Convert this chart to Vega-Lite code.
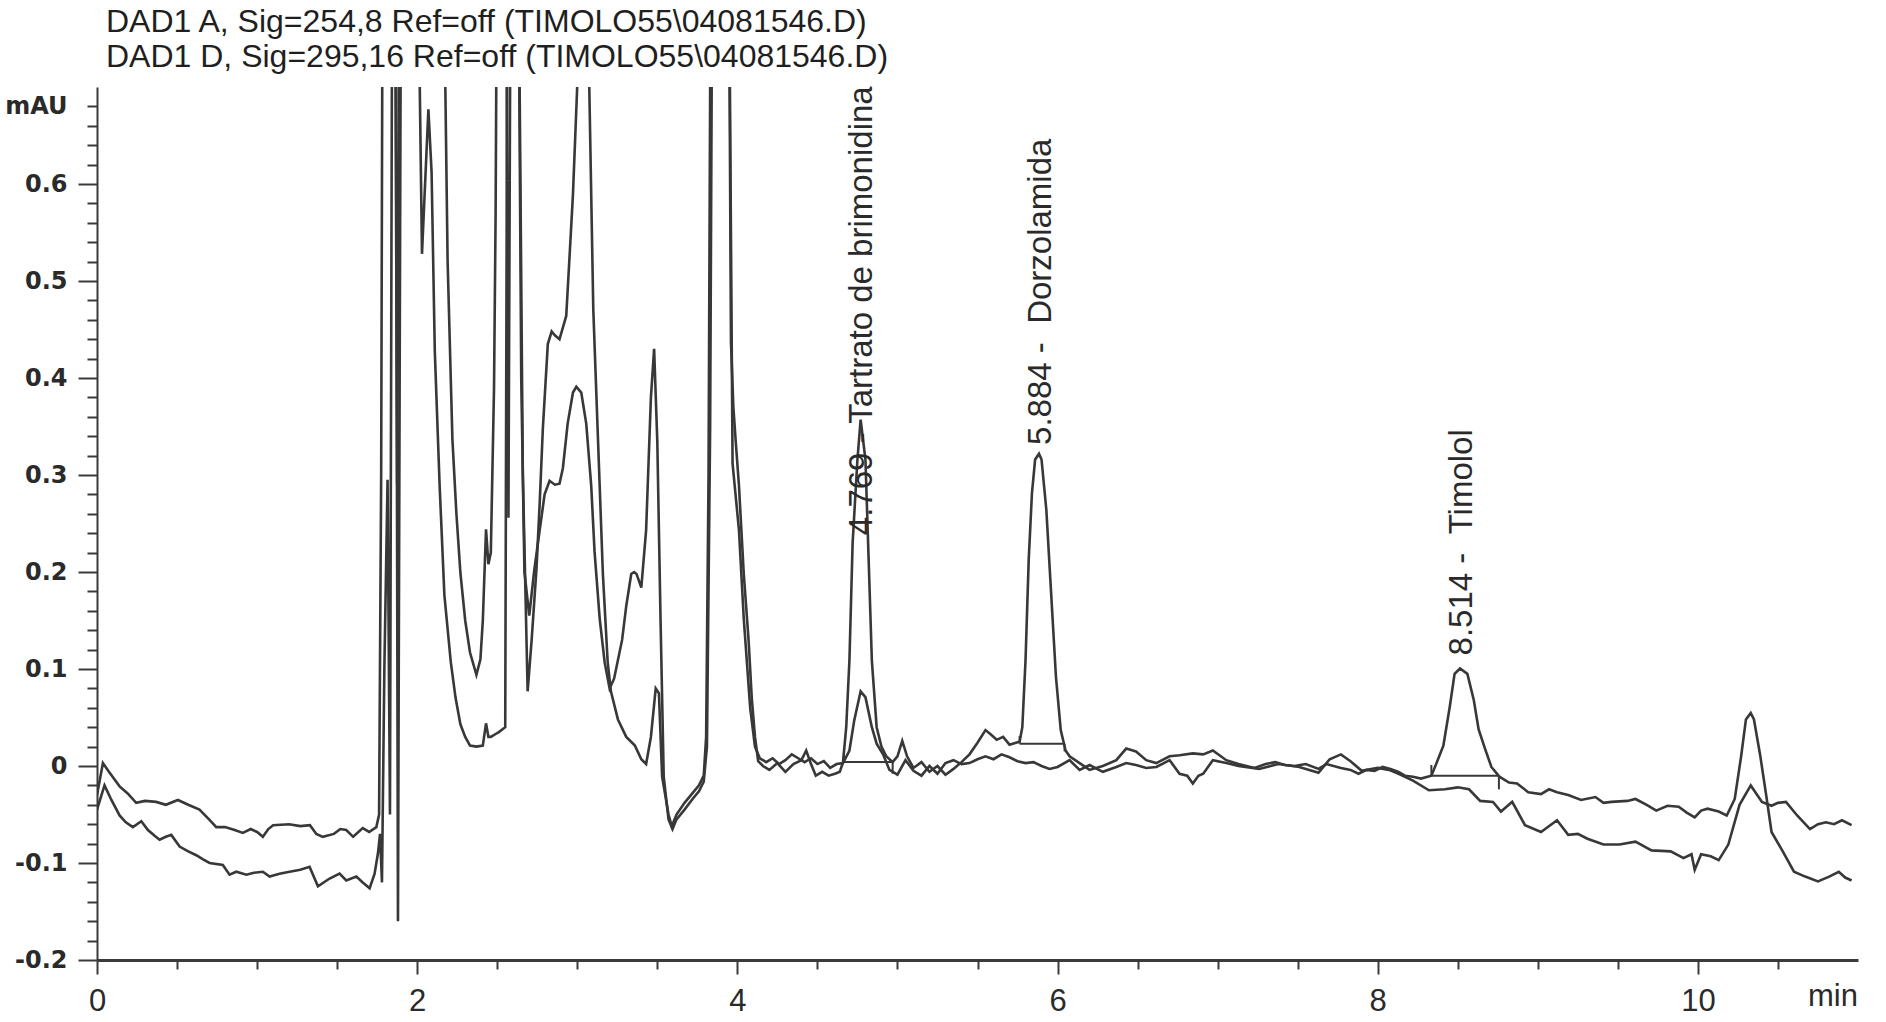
{
"$schema":"https://vega.github.io/schema/vega-lite/v6.json",
"width":1761,"height":873,
"autosize":{"type":"none"},
"padding":{"left":97,"top":87,"right":28,"bottom":62},
"background":"white",
"config":{"view":{"stroke":null}},
"title":{"text":["DAD1 A, Sig=254,8 Ref=off (TIMOLO55\\04081546.D)","DAD1 D, Sig=295,16 Ref=off (TIMOLO55\\04081546.D)"],"anchor":"start","frame":"group","font":"Liberation Sans","fontSize":32,"fontWeight":"normal","color":"#1f1f1f","lineHeight":35,"dx":9,"offset":12},
"datasets":{
"traces":[
{"s":"A","t":0,"v":-0.03},{"s":"A","t":0.037,"v":0.003},{"s":"A","t":0.07,"v":-0.005},{"s":"A","t":0.141,"v":-0.021},{"s":"A","t":0.19,"v":-0.028},{"s":"A","t":0.245,"v":-0.038},{"s":"A","t":0.3,"v":-0.036},{"s":"A","t":0.37,"v":-0.037},{"s":"A","t":0.43,"v":-0.04},{"s":"A","t":0.505,"v":-0.035},{"s":"A","t":0.57,"v":-0.04},{"s":"A","t":0.64,"v":-0.045},{"s":"A","t":0.7,"v":-0.055},{"s":"A","t":0.745,"v":-0.063},{"s":"A","t":0.8,"v":-0.063},{"s":"A","t":0.86,"v":-0.066},{"s":"A","t":0.911,"v":-0.069},{"s":"A","t":0.96,"v":-0.065},{"s":"A","t":1.0,"v":-0.068},{"s":"A","t":1.036,"v":-0.073},{"s":"A","t":1.07,"v":-0.065},{"s":"A","t":1.1,"v":-0.061},{"s":"A","t":1.2,"v":-0.06},{"s":"A","t":1.27,"v":-0.062},{"s":"A","t":1.33,"v":-0.061},{"s":"A","t":1.37,"v":-0.07},{"s":"A","t":1.41,"v":-0.073},{"s":"A","t":1.48,"v":-0.07},{"s":"A","t":1.52,"v":-0.065},{"s":"A","t":1.557,"v":-0.066},{"s":"A","t":1.6,"v":-0.073},{"s":"A","t":1.66,"v":-0.064},{"s":"A","t":1.7,"v":-0.068},{"s":"A","t":1.745,"v":-0.063},{"s":"A","t":1.762,"v":-0.05},{"s":"A","t":1.775,"v":0.3},{"s":"A","t":1.785,"v":0.9},{"s":"A","t":1.86,"v":0.9},{"s":"A","t":1.875,"v":0.29},{"s":"A","t":1.89,"v":0.9},{"s":"A","t":2.16,"v":0.9},{"s":"A","t":2.19,"v":0.521},{"s":"A","t":2.22,"v":0.337},{"s":"A","t":2.245,"v":0.26},{"s":"A","t":2.27,"v":0.199},{"s":"A","t":2.3,"v":0.15},{"s":"A","t":2.33,"v":0.117},{"s":"A","t":2.37,"v":0.094},{"s":"A","t":2.395,"v":0.11},{"s":"A","t":2.41,"v":0.15},{"s":"A","t":2.43,"v":0.244},{"s":"A","t":2.445,"v":0.208},{"s":"A","t":2.46,"v":0.22},{"s":"A","t":2.48,"v":0.39},{"s":"A","t":2.49,"v":0.57},{"s":"A","t":2.5,"v":0.9},{"s":"A","t":2.555,"v":0.9},{"s":"A","t":2.57,"v":0.256},{"s":"A","t":2.585,"v":0.9},{"s":"A","t":2.63,"v":0.9},{"s":"A","t":2.66,"v":0.3},{"s":"A","t":2.69,"v":0.077},{"s":"A","t":2.715,"v":0.13},{"s":"A","t":2.745,"v":0.203},{"s":"A","t":2.765,"v":0.27},{"s":"A","t":2.785,"v":0.348},{"s":"A","t":2.816,"v":0.435},{"s":"A","t":2.84,"v":0.448},{"s":"A","t":2.86,"v":0.444},{"s":"A","t":2.889,"v":0.44},{"s":"A","t":2.91,"v":0.452},{"s":"A","t":2.931,"v":0.464},{"s":"A","t":2.95,"v":0.52},{"s":"A","t":2.973,"v":0.589},{"s":"A","t":2.99,"v":0.66},{"s":"A","t":3.035,"v":0.85},{"s":"A","t":3.075,"v":0.7},{"s":"A","t":3.1,"v":0.471},{"s":"A","t":3.13,"v":0.334},{"s":"A","t":3.16,"v":0.198},{"s":"A","t":3.19,"v":0.107},{"s":"A","t":3.21,"v":0.077},{"s":"A","t":3.254,"v":0.048},{"s":"A","t":3.306,"v":0.03},{"s":"A","t":3.36,"v":0.021},{"s":"A","t":3.4,"v":0.007},{"s":"A","t":3.43,"v":0.002},{"s":"A","t":3.46,"v":0.03},{"s":"A","t":3.49,"v":0.08},{"s":"A","t":3.51,"v":0.075},{"s":"A","t":3.53,"v":-0.011},{"s":"A","t":3.57,"v":-0.05},{"s":"A","t":3.59,"v":-0.062},{"s":"A","t":3.62,"v":-0.05},{"s":"A","t":3.67,"v":-0.038},{"s":"A","t":3.72,"v":-0.028},{"s":"A","t":3.76,"v":-0.02},{"s":"A","t":3.79,"v":-0.01},{"s":"A","t":3.805,"v":0.03},{"s":"A","t":3.82,"v":0.3},{"s":"A","t":3.835,"v":0.9},{"s":"A","t":3.89,"v":1.2},{"s":"A","t":3.945,"v":0.9},{"s":"A","t":3.96,"v":0.437},{"s":"A","t":3.975,"v":0.37},{"s":"A","t":3.99,"v":0.334},{"s":"A","t":4.01,"v":0.289},{"s":"A","t":4.04,"v":0.198},{"s":"A","t":4.07,"v":0.13},{"s":"A","t":4.09,"v":0.07},{"s":"A","t":4.11,"v":0.03},{"s":"A","t":4.13,"v":0.005},{"s":"A","t":4.16,"v":0.0},{"s":"A","t":4.2,"v":-0.004},{"s":"A","t":4.25,"v":0.003},{"s":"A","t":4.3,"v":-0.006},{"s":"A","t":4.35,"v":0.002},{"s":"A","t":4.4,"v":0.006},{"s":"A","t":4.43,"v":0.016},{"s":"A","t":4.46,"v":0.002},{"s":"A","t":4.49,"v":-0.01},{"s":"A","t":4.53,"v":-0.006},{"s":"A","t":4.57,"v":-0.01},{"s":"A","t":4.61,"v":-0.008},{"s":"A","t":4.64,"v":-0.006},{"s":"A","t":4.66,"v":0.004},{"s":"A","t":4.68,"v":0.04},{"s":"A","t":4.7,"v":0.109},{"s":"A","t":4.72,"v":0.23},{"s":"A","t":4.75,"v":0.316},{"s":"A","t":4.77,"v":0.357},{"s":"A","t":4.8,"v":0.316},{"s":"A","t":4.82,"v":0.213},{"s":"A","t":4.84,"v":0.109},{"s":"A","t":4.87,"v":0.04},{"s":"A","t":4.9,"v":0.02},{"s":"A","t":4.93,"v":0.01},{"s":"A","t":4.97,"v":0.004},{"s":"A","t":5.0,"v":0.01},{"s":"A","t":5.03,"v":0.026},{"s":"A","t":5.06,"v":0.01},{"s":"A","t":5.1,"v":-0.002},{"s":"A","t":5.15,"v":0.004},{"s":"A","t":5.2,"v":-0.006},{"s":"A","t":5.25,"v":0.0},{"s":"A","t":5.3,"v":-0.009},{"s":"A","t":5.35,"v":-0.003},{"s":"A","t":5.4,"v":0.004},{"s":"A","t":5.45,"v":0.012},{"s":"A","t":5.5,"v":0.024},{"s":"A","t":5.55,"v":0.037},{"s":"A","t":5.58,"v":0.033},{"s":"A","t":5.62,"v":0.027},{"s":"A","t":5.66,"v":0.03},{"s":"A","t":5.7,"v":0.022},{"s":"A","t":5.74,"v":0.024},{"s":"A","t":5.763,"v":0.025},{"s":"A","t":5.78,"v":0.04},{"s":"A","t":5.8,"v":0.109},{"s":"A","t":5.82,"v":0.213},{"s":"A","t":5.84,"v":0.281},{"s":"A","t":5.86,"v":0.316},{"s":"A","t":5.884,"v":0.322},{"s":"A","t":5.9,"v":0.316},{"s":"A","t":5.93,"v":0.264},{"s":"A","t":5.96,"v":0.178},{"s":"A","t":5.99,"v":0.092},{"s":"A","t":6.02,"v":0.037},{"s":"A","t":6.05,"v":0.016},{"s":"A","t":6.075,"v":0.01},{"s":"A","t":6.138,"v":0.003},{"s":"A","t":6.2,"v":-0.004},{"s":"A","t":6.283,"v":0.0},{"s":"A","t":6.367,"v":0.006},{"s":"A","t":6.429,"v":0.018},{"s":"A","t":6.49,"v":0.015},{"s":"A","t":6.554,"v":0.006},{"s":"A","t":6.617,"v":0.003},{"s":"A","t":6.7,"v":0.01},{"s":"A","t":6.762,"v":0.011},{"s":"A","t":6.845,"v":0.013},{"s":"A","t":6.91,"v":0.012},{"s":"A","t":6.97,"v":0.016},{"s":"A","t":7.054,"v":0.006},{"s":"A","t":7.13,"v":0.002},{"s":"A","t":7.23,"v":-0.002},{"s":"A","t":7.3,"v":0.002},{"s":"A","t":7.36,"v":0.004},{"s":"A","t":7.42,"v":0.001},{"s":"A","t":7.48,"v":0.0},{"s":"A","t":7.55,"v":0.002},{"s":"A","t":7.63,"v":-0.003},{"s":"A","t":7.68,"v":0.002},{"s":"A","t":7.77,"v":-0.002},{"s":"A","t":7.83,"v":-0.004},{"s":"A","t":7.88,"v":-0.008},{"s":"A","t":7.93,"v":-0.004},{"s":"A","t":7.98,"v":-0.005},{"s":"A","t":8.03,"v":-0.001},{"s":"A","t":8.08,"v":-0.003},{"s":"A","t":8.13,"v":-0.006},{"s":"A","t":8.17,"v":-0.01},{"s":"A","t":8.22,"v":-0.011},{"s":"A","t":8.27,"v":-0.013},{"s":"A","t":8.335,"v":-0.01},{"s":"A","t":8.37,"v":0.004},{"s":"A","t":8.41,"v":0.021},{"s":"A","t":8.45,"v":0.061},{"s":"A","t":8.48,"v":0.095},{"s":"A","t":8.514,"v":0.1005},{"s":"A","t":8.56,"v":0.095},{"s":"A","t":8.6,"v":0.068},{"s":"A","t":8.63,"v":0.038},{"s":"A","t":8.67,"v":0.018},{"s":"A","t":8.71,"v":-0.001},{"s":"A","t":8.76,"v":-0.011},{"s":"A","t":8.82,"v":-0.017},{"s":"A","t":8.87,"v":-0.018},{"s":"A","t":8.94,"v":-0.027},{"s":"A","t":9.02,"v":-0.029},{"s":"A","t":9.07,"v":-0.024},{"s":"A","t":9.12,"v":-0.027},{"s":"A","t":9.19,"v":-0.03},{"s":"A","t":9.27,"v":-0.035},{"s":"A","t":9.36,"v":-0.032},{"s":"A","t":9.41,"v":-0.038},{"s":"A","t":9.46,"v":-0.037},{"s":"A","t":9.56,"v":-0.036},{"s":"A","t":9.61,"v":-0.034},{"s":"A","t":9.68,"v":-0.04},{"s":"A","t":9.74,"v":-0.046},{"s":"A","t":9.81,"v":-0.041},{"s":"A","t":9.88,"v":-0.042},{"s":"A","t":9.93,"v":-0.048},{"s":"A","t":9.98,"v":-0.053},{"s":"A","t":10.02,"v":-0.046},{"s":"A","t":10.06,"v":-0.044},{"s":"A","t":10.13,"v":-0.047},{"s":"A","t":10.18,"v":-0.051},{"s":"A","t":10.23,"v":-0.034},{"s":"A","t":10.27,"v":0.01},{"s":"A","t":10.3,"v":0.048},{"s":"A","t":10.33,"v":0.0546},{"s":"A","t":10.35,"v":0.048},{"s":"A","t":10.39,"v":0.01},{"s":"A","t":10.43,"v":-0.034},{"s":"A","t":10.46,"v":-0.068},{"s":"A","t":10.53,"v":-0.088},{"s":"A","t":10.6,"v":-0.109},{"s":"A","t":10.67,"v":-0.114},{"s":"A","t":10.75,"v":-0.119},{"s":"A","t":10.82,"v":-0.114},{"s":"A","t":10.88,"v":-0.109},{"s":"A","t":10.92,"v":-0.115},{"s":"A","t":10.96,"v":-0.118},
{"s":"D","t":0,"v":-0.045},{"s":"D","t":0.047,"v":-0.02},{"s":"D","t":0.09,"v":-0.035},{"s":"D","t":0.141,"v":-0.051},{"s":"D","t":0.18,"v":-0.058},{"s":"D","t":0.224,"v":-0.063},{"s":"D","t":0.277,"v":-0.057},{"s":"D","t":0.318,"v":-0.066},{"s":"D","t":0.36,"v":-0.072},{"s":"D","t":0.391,"v":-0.076},{"s":"D","t":0.43,"v":-0.073},{"s":"D","t":0.464,"v":-0.071},{"s":"D","t":0.516,"v":-0.083},{"s":"D","t":0.57,"v":-0.088},{"s":"D","t":0.62,"v":-0.092},{"s":"D","t":0.66,"v":-0.096},{"s":"D","t":0.703,"v":-0.1},{"s":"D","t":0.786,"v":-0.102},{"s":"D","t":0.828,"v":-0.112},{"s":"D","t":0.87,"v":-0.109},{"s":"D","t":0.933,"v":-0.112},{"s":"D","t":0.98,"v":-0.11},{"s":"D","t":1.036,"v":-0.109},{"s":"D","t":1.078,"v":-0.114},{"s":"D","t":1.14,"v":-0.111},{"s":"D","t":1.203,"v":-0.109},{"s":"D","t":1.27,"v":-0.107},{"s":"D","t":1.328,"v":-0.104},{"s":"D","t":1.38,"v":-0.124},{"s":"D","t":1.453,"v":-0.116},{"s":"D","t":1.515,"v":-0.111},{"s":"D","t":1.557,"v":-0.118},{"s":"D","t":1.62,"v":-0.114},{"s":"D","t":1.66,"v":-0.12},{"s":"D","t":1.703,"v":-0.126},{"s":"D","t":1.734,"v":-0.111},{"s":"D","t":1.755,"v":-0.09},{"s":"D","t":1.768,"v":-0.07},{"s":"D","t":1.78,"v":-0.12},{"s":"D","t":1.795,"v":0.1},{"s":"D","t":1.815,"v":0.295},{"s":"D","t":1.83,"v":-0.05},{"s":"D","t":1.845,"v":0.9},{"s":"D","t":1.865,"v":0.9},{"s":"D","t":1.88,"v":-0.16},{"s":"D","t":1.9,"v":0.9},{"s":"D","t":2.0,"v":0.9},{"s":"D","t":2.03,"v":0.528},{"s":"D","t":2.07,"v":0.677},{"s":"D","t":2.09,"v":0.612},{"s":"D","t":2.11,"v":0.428},{"s":"D","t":2.14,"v":0.29},{"s":"D","t":2.17,"v":0.176},{"s":"D","t":2.21,"v":0.107},{"s":"D","t":2.24,"v":0.07},{"s":"D","t":2.27,"v":0.043},{"s":"D","t":2.3,"v":0.03},{"s":"D","t":2.33,"v":0.021},{"s":"D","t":2.37,"v":0.02},{"s":"D","t":2.41,"v":0.021},{"s":"D","t":2.43,"v":0.044},{"s":"D","t":2.445,"v":0.03},{"s":"D","t":2.46,"v":0.03},{"s":"D","t":2.49,"v":0.033},{"s":"D","t":2.51,"v":0.035},{"s":"D","t":2.55,"v":0.04},{"s":"D","t":2.565,"v":0.9},{"s":"D","t":2.63,"v":0.9},{"s":"D","t":2.65,"v":0.4},{"s":"D","t":2.67,"v":0.2},{"s":"D","t":2.7,"v":0.155},{"s":"D","t":2.73,"v":0.2},{"s":"D","t":2.765,"v":0.243},{"s":"D","t":2.796,"v":0.28},{"s":"D","t":2.827,"v":0.294},{"s":"D","t":2.86,"v":0.29},{"s":"D","t":2.889,"v":0.291},{"s":"D","t":2.91,"v":0.307},{"s":"D","t":2.94,"v":0.353},{"s":"D","t":2.973,"v":0.385},{"s":"D","t":2.994,"v":0.391},{"s":"D","t":3.025,"v":0.385},{"s":"D","t":3.056,"v":0.353},{"s":"D","t":3.087,"v":0.289},{"s":"D","t":3.108,"v":0.221},{"s":"D","t":3.14,"v":0.152},{"s":"D","t":3.171,"v":0.107},{"s":"D","t":3.202,"v":0.08},{"s":"D","t":3.23,"v":0.09},{"s":"D","t":3.28,"v":0.13},{"s":"D","t":3.306,"v":0.165},{"s":"D","t":3.337,"v":0.198},{"s":"D","t":3.355,"v":0.2},{"s":"D","t":3.37,"v":0.198},{"s":"D","t":3.4,"v":0.184},{"s":"D","t":3.43,"v":0.243},{"s":"D","t":3.46,"v":0.38},{"s":"D","t":3.48,"v":0.43},{"s":"D","t":3.5,"v":0.334},{"s":"D","t":3.52,"v":0.152},{"s":"D","t":3.54,"v":-0.011},{"s":"D","t":3.57,"v":-0.055},{"s":"D","t":3.595,"v":-0.065},{"s":"D","t":3.62,"v":-0.055},{"s":"D","t":3.67,"v":-0.045},{"s":"D","t":3.72,"v":-0.034},{"s":"D","t":3.76,"v":-0.026},{"s":"D","t":3.79,"v":-0.016},{"s":"D","t":3.81,"v":0.02},{"s":"D","t":3.83,"v":0.35},{"s":"D","t":3.845,"v":0.9},{"s":"D","t":3.89,"v":1.1},{"s":"D","t":3.945,"v":0.9},{"s":"D","t":3.97,"v":0.312},{"s":"D","t":4.01,"v":0.243},{"s":"D","t":4.04,"v":0.152},{"s":"D","t":4.08,"v":0.06},{"s":"D","t":4.11,"v":0.02},{"s":"D","t":4.14,"v":0.008},{"s":"D","t":4.18,"v":0.004},{"s":"D","t":4.22,"v":0.008},{"s":"D","t":4.26,"v":0.002},{"s":"D","t":4.3,"v":0.006},{"s":"D","t":4.34,"v":0.012},{"s":"D","t":4.38,"v":0.008},{"s":"D","t":4.42,"v":0.004},{"s":"D","t":4.46,"v":0.008},{"s":"D","t":4.5,"v":0.002},{"s":"D","t":4.54,"v":0.005},{"s":"D","t":4.58,"v":-0.002},{"s":"D","t":4.62,"v":0.002},{"s":"D","t":4.66,"v":0.003},{"s":"D","t":4.7,"v":0.016},{"s":"D","t":4.73,"v":0.047},{"s":"D","t":4.77,"v":0.077},{"s":"D","t":4.8,"v":0.071},{"s":"D","t":4.84,"v":0.04},{"s":"D","t":4.87,"v":0.023},{"s":"D","t":4.91,"v":0.012},{"s":"D","t":4.95,"v":-0.004},{"s":"D","t":5.0,"v":-0.009},{"s":"D","t":5.05,"v":0.006},{"s":"D","t":5.1,"v":-0.005},{"s":"D","t":5.15,"v":-0.01},{"s":"D","t":5.2,"v":0.0},{"s":"D","t":5.25,"v":-0.008},{"s":"D","t":5.3,"v":0.003},{"s":"D","t":5.35,"v":0.006},{"s":"D","t":5.4,"v":0.002},{"s":"D","t":5.45,"v":0.003},{"s":"D","t":5.5,"v":0.007},{"s":"D","t":5.55,"v":0.01},{"s":"D","t":5.6,"v":0.007},{"s":"D","t":5.65,"v":0.012},{"s":"D","t":5.7,"v":0.009},{"s":"D","t":5.75,"v":0.005},{"s":"D","t":5.8,"v":0.003},{"s":"D","t":5.85,"v":0.004},{"s":"D","t":5.9,"v":0.0},{"s":"D","t":5.95,"v":-0.003},{"s":"D","t":6.0,"v":-0.001},{"s":"D","t":6.075,"v":0.006},{"s":"D","t":6.138,"v":-0.004},{"s":"D","t":6.2,"v":0.001},{"s":"D","t":6.283,"v":-0.006},{"s":"D","t":6.367,"v":-0.001},{"s":"D","t":6.429,"v":0.003},{"s":"D","t":6.49,"v":0.001},{"s":"D","t":6.554,"v":-0.002},{"s":"D","t":6.617,"v":-0.001},{"s":"D","t":6.7,"v":0.006},{"s":"D","t":6.762,"v":-0.008},{"s":"D","t":6.81,"v":-0.01},{"s":"D","t":6.845,"v":-0.018},{"s":"D","t":6.88,"v":-0.01},{"s":"D","t":6.91,"v":-0.008},{"s":"D","t":6.97,"v":0.006},{"s":"D","t":7.054,"v":0.003},{"s":"D","t":7.13,"v":0.0},{"s":"D","t":7.26,"v":-0.003},{"s":"D","t":7.38,"v":0.002},{"s":"D","t":7.51,"v":-0.001},{"s":"D","t":7.63,"v":-0.007},{"s":"D","t":7.7,"v":0.007},{"s":"D","t":7.77,"v":0.012},{"s":"D","t":7.83,"v":0.005},{"s":"D","t":7.9,"v":-0.005},{"s":"D","t":8.0,"v":-0.002},{"s":"D","t":8.07,"v":-0.004},{"s":"D","t":8.13,"v":-0.008},{"s":"D","t":8.22,"v":-0.015},{"s":"D","t":8.32,"v":-0.025},{"s":"D","t":8.42,"v":-0.024},{"s":"D","t":8.5,"v":-0.022},{"s":"D","t":8.57,"v":-0.024},{"s":"D","t":8.64,"v":-0.036},{"s":"D","t":8.72,"v":-0.037},{"s":"D","t":8.77,"v":-0.047},{"s":"D","t":8.84,"v":-0.037},{"s":"D","t":8.92,"v":-0.061},{"s":"D","t":9.02,"v":-0.068},{"s":"D","t":9.12,"v":-0.056},{"s":"D","t":9.19,"v":-0.071},{"s":"D","t":9.25,"v":-0.07},{"s":"D","t":9.31,"v":-0.075},{"s":"D","t":9.41,"v":-0.081},{"s":"D","t":9.51,"v":-0.081},{"s":"D","t":9.61,"v":-0.078},{"s":"D","t":9.71,"v":-0.087},{"s":"D","t":9.83,"v":-0.088},{"s":"D","t":9.91,"v":-0.095},{"s":"D","t":9.96,"v":-0.091},{"s":"D","t":9.98,"v":-0.107},{"s":"D","t":10.02,"v":-0.091},{"s":"D","t":10.08,"v":-0.093},{"s":"D","t":10.13,"v":-0.097},{"s":"D","t":10.19,"v":-0.081},{"s":"D","t":10.26,"v":-0.04},{"s":"D","t":10.33,"v":-0.02},{"s":"D","t":10.4,"v":-0.037},{"s":"D","t":10.46,"v":-0.041},{"s":"D","t":10.5,"v":-0.038},{"s":"D","t":10.55,"v":-0.037},{"s":"D","t":10.62,"v":-0.051},{"s":"D","t":10.7,"v":-0.065},{"s":"D","t":10.75,"v":-0.06},{"s":"D","t":10.8,"v":-0.058},{"s":"D","t":10.85,"v":-0.06},{"s":"D","t":10.9,"v":-0.056},{"s":"D","t":10.96,"v":-0.061}
],
"labels":[{"t":4.778,"v":0.238,"label":"4.769 - Tartrato de brimonidina"},{"t":5.898,"v":0.331,"label":"5.884 - \u00a0Dorzolamida"},{"t":8.527,"v":0.114,"label":"8.514 - \u00a0Timolol"}],
"bases":[{"t":4.665,"t2":4.97,"v":0.004},{"t":5.763,"t2":6.044,"v":0.023},{"t":8.335,"t2":8.757,"v":-0.01}],
"bticks":[{"t":4.665,"v":0.004,"v2":0.014},{"t":4.97,"v":0.004,"v2":-0.008},{"t":5.763,"v":0.023,"v2":0.031},{"t":6.044,"v":0.023,"v2":0.015},{"t":8.335,"v":-0.01,"v2":0.001},{"t":8.757,"v":-0.01,"v2":-0.024}]
},
"encoding":{
"x":{"field":"t","type":"quantitative","title":null,"scale":{"domain":[0,11],"nice":false,"zero":false},
"axis":{"values":[0,0.5,1,1.5,2,2.5,3,3.5,4,4.5,5,5.5,6,6.5,7,7.5,8,8.5,9,9.5,10,10.5,10.84],"labelExpr":"datum.value == 10.84 ? 'min' : (datum.value % 2 == 0 ? format(datum.value, 'd') : '')","tickSize":{"condition":{"test":"datum.value % 2 == 0","value":14},"value":9},"tickOpacity":{"condition":{"test":"datum.value == 10.84","value":0},"value":1},"tickWidth":2,"tickColor":"#3a3a3a","domainColor":"#3a3a3a","domainWidth":3,"labelFont":"Liberation Sans","labelFontSize":31,"labelColor":"#2a2a2a","labelPadding":12,"labelOverlap":false,"labelFlush":false,"labelBound":false,"grid":false}},
"y":{"field":"v","type":"quantitative","title":null,"scale":{"domain":[-0.2,0.7],"nice":false,"zero":false},
"axis":{"values":[-0.2,-0.18,-0.16,-0.14,-0.12,-0.1,-0.08,-0.06,-0.04,-0.02,0,0.02,0.04,0.06,0.08,0.1,0.12,0.14,0.16,0.18,0.2,0.22,0.24,0.26,0.28,0.3,0.32,0.34,0.36,0.38,0.4,0.42,0.44,0.46,0.48,0.5,0.52,0.54,0.56,0.58,0.6,0.62,0.64,0.66,0.68],"labelExpr":"abs(datum.value-0.68)<0.001 ? 'mAU' : (abs(datum.value*10 - round(datum.value*10)) < 0.001 ? ((datum.value < -0.001 ? '-' : '') + format(abs(datum.value), '.1~f')) : '')","tickSize":{"condition":{"test":"abs(datum.value*10 - round(datum.value*10)) < 0.001","value":19},"value":10},"labelPadding":{"condition":{"test":"abs(datum.value-0.68)<0.001","value":20},"value":11},"tickWidth":2,"tickColor":"#3a3a3a","domainColor":"#3a3a3a","domainWidth":2,"labelFont":"DejaVu Sans","labelFontWeight":"bold","labelFontSize":24,"labelColor":"#2a2a2a","labelOverlap":false,"labelSeparation":0,"labelFlush":false,"labelBound":false,"grid":false}}
},
"layer":[
{"data":{"name":"traces"},
"mark":{"type":"line","clip":true,"color":"#383838","strokeWidth":2.6},
"encoding":{"detail":{"field":"s"}}},
{"data":{"name":"bases"},"mark":{"type":"rule","color":"#383838","strokeWidth":2},
"encoding":{"x2":{"field":"t2"}}},
{"data":{"name":"bticks"},"mark":{"type":"rule","color":"#383838","strokeWidth":2},
"encoding":{"y2":{"field":"v2"}}},
{"data":{"name":"labels"},"mark":{"type":"text","angle":270,"align":"left","baseline":"middle","font":"Liberation Sans","fontSize":33,"color":"#2a2a2a"},
"encoding":{"text":{"field":"label"}}}
]
}
